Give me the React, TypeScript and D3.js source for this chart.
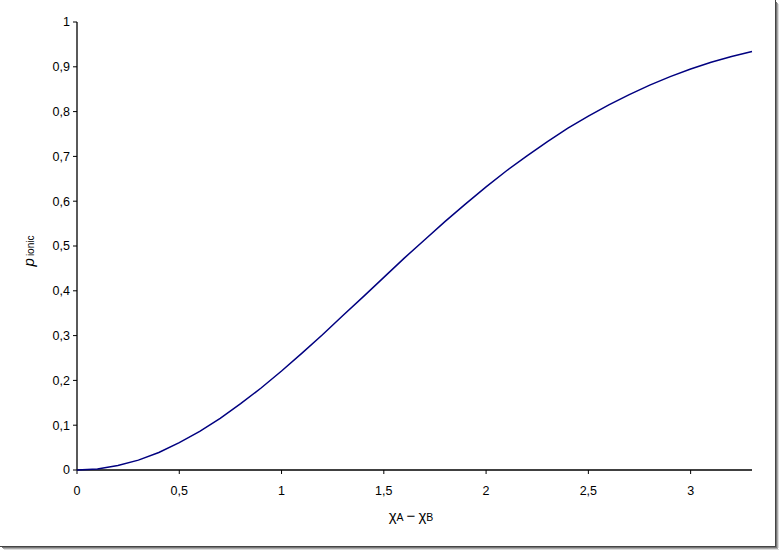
import React from "react";
import * as d3 from "d3";

const xValues = [0, 0.1, 0.2, 0.3, 0.4, 0.5, 0.6, 0.7, 0.8, 0.9, 1.0, 1.1, 1.2, 1.3, 1.4, 1.5, 1.6, 1.7, 1.8, 1.9, 2.0, 2.1, 2.2, 2.3, 2.4, 2.5, 2.6, 2.7, 2.8, 2.9, 3.0, 3.1, 3.2, 3.3];
const pIonic = [0, 0.0025, 0.01, 0.022, 0.039, 0.061, 0.086, 0.115, 0.148, 0.183, 0.221, 0.261, 0.302, 0.345, 0.387, 0.43, 0.473, 0.514, 0.555, 0.594, 0.632, 0.668, 0.701, 0.733, 0.763, 0.79, 0.815, 0.838, 0.859, 0.878, 0.895, 0.91, 0.923, 0.934];
const xTicks = [0, 0.5, 1, 1.5, 2, 2.5, 3];
const yTicks = [0, 0.1, 0.2, 0.3, 0.4, 0.5, 0.6, 0.7, 0.8, 0.9, 1];

const W = 779, H = 550;
const fmt = (v: number) => String(+v.toFixed(2)).replace(".", ",");

export default function App() {
  const x = d3.scaleLinear().domain([0, 3.3]).range([77, 752]);
  const y = d3.scaleLinear().domain([0, 1]).range([470, 22]);
  const line = d3.line<number>().x((_, i) => x(xValues[i])).y((d) => y(d));
  const font = "'Liberation Sans', Arial, sans-serif";
  return (
    <svg width={W} height={H} style={{ position: "absolute", left: 0, top: 0 }} fontFamily={font}>
      <rect x={0} y={0} width={W} height={H} fill="#fff" />
      {/* shadow */}
      <rect x={776} y={2} width={1} height={546} fill="#777" />
      <rect x={777} y={3} width={1} height={545} fill="#aaa" />
      <rect x={778} y={4} width={1} height={544} fill="#ddd" />
      <rect x={2} y={547} width={775} height={1} fill="#777" />
      <rect x={3} y={548} width={775} height={1} fill="#aaa" />
      <rect x={4} y={549} width={775} height={1} fill="#ddd" />
      <line x1={775.5} x2={775.5} y1={0} y2={547} stroke="#444" />
      <line x1={0} x2={776} y1={546.5} y2={546.5} stroke="#444" />
      {/* axes */}
      <line x1={77} x2={77} y1={y(1)} y2={y(0)} stroke="#000" strokeWidth={1.3} />
      <line x1={77} x2={752} y1={470} y2={470} stroke="#000" strokeWidth={1.3} />
      {yTicks.map((t) => (
        <g key={"y" + t}>
          <line x1={73} x2={77} y1={y(t)} y2={y(t)} stroke="#000" />
          <text x={70} y={y(t)} dy="0.35em" textAnchor="end" fontSize={12.5}>{fmt(t)}</text>
        </g>
      ))}
      {xTicks.map((t) => (
        <g key={"x" + t}>
          <line x1={x(t)} x2={x(t)} y1={470} y2={474} stroke="#000" />
          <text x={x(t)} y={495} textAnchor="middle" fontSize={12.5}>{fmt(t)}</text>
        </g>
      ))}
      <path d={line(pIonic) || ""} fill="none" stroke="#000080" strokeWidth={1.5} />
      <text transform="translate(34,251) rotate(-90)" fontSize={15} textAnchor="middle">
        <tspan fontStyle="italic">p</tspan>
        <tspan fontSize={10} dx={2}>ionic</tspan>
      </text>
      <text x={411} y={521} textAnchor="middle" fontSize={15}>
        <tspan>χ</tspan><tspan fontSize={10.5}>A</tspan><tspan dx={3}>−</tspan><tspan dx={3}>χ</tspan><tspan fontSize={10.5}>B</tspan>
      </text>
    </svg>
  );
}
